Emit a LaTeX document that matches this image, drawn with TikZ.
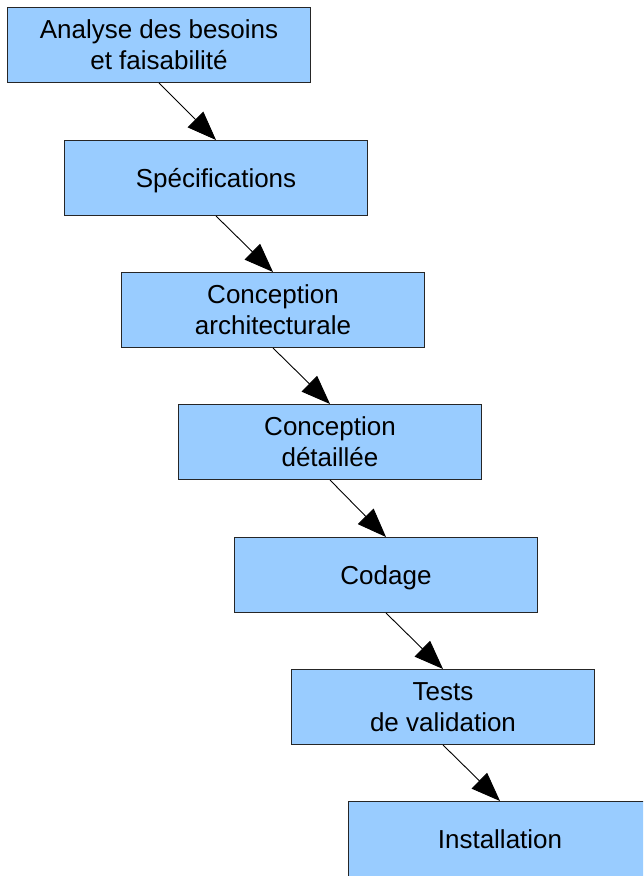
\documentclass[tikz,border=0pt]{standalone}
\usepackage{fontspec}
\setmainfont{Liberation Sans}
\usetikzlibrary{arrows.meta}
\definecolor{phasefill}{HTML}{99CCFF}
\begin{document}
\begin{tikzpicture}[x=1pt,y=-1pt,
  phase/.style={draw=black!85, line width=1pt, fill=phasefill, rectangle,
    minimum width=303pt, minimum height=75pt, anchor=north west,
    align=center, inner sep=0pt, text depth=-3pt, font=\fontsize{26}{31}\selectfont},
  flow/.style={line width=0.9pt, -{Triangle[length=29pt,width=22pt]}}]
\clip (0,0) rectangle (643,876);
\useasboundingbox (0,0) rectangle (643,876);
\node[phase] (p1) at (7,7)   {Analyse des besoins\\et faisabilité};
\node[phase] (p2) at (64,140) {Spécifications};
\node[phase] (p3) at (121,272) {Conception\\architecturale};
\node[phase] (p4) at (178,404) {Conception\\détaillée};
\node[phase] (p5) at (234,537) {Codage};
\node[phase] (p6) at (291,669) {Tests\\de validation};
\node[phase] (p7) at (348,801) {Installation};
\foreach \a/\b in {p1/p2,p2/p3,p3/p4,p4/p5,p5/p6,p6/p7}
  \draw[flow] (\a.south) -- (\b.north);
\end{tikzpicture}
\end{document}
